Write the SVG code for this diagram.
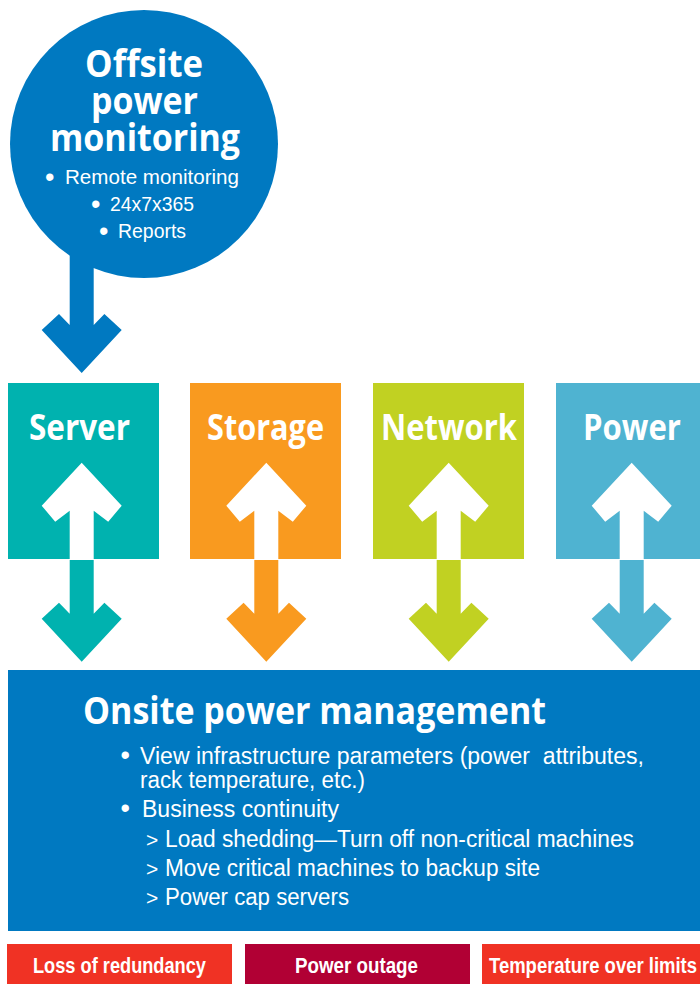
<svg xmlns="http://www.w3.org/2000/svg" width="700" height="984" viewBox="0 0 700 984">
<style>
.h{font-family:"Open Sans","Noto Sans",sans-serif;font-weight:700;fill:#fff}
.b{font-family:"Liberation Sans",Arial,sans-serif;fill:#fff;font-size:21px;white-space:pre}
.l{font-family:"Liberation Sans",Arial,sans-serif;fill:#fff;font-size:23px;white-space:pre}
.d{font-family:"Liberation Sans",Arial,sans-serif;fill:#fff;font-size:27px}
.r{font-family:"Liberation Sans",Arial,sans-serif;font-weight:700;fill:#fff;font-size:22px}
.blue{fill:#0079c1}.teal{fill:#00b2af}.orange{fill:#f99a1f}.green{fill:#c1d122}.sky{fill:#4fb3d1}.white{fill:#fff}
</style>
<defs>
<path id="up" d="M0 0L40 43L26.500 59L12 48V96.500H-12V48L-26.500 59L-40 43Z"/>
<path id="down" d="M-12 0H12V53.700L22.700 42.700L40 58.700L0 101.700L-40 58.700L-22.700 42.700L-12 53.700Z"/>
</defs>
<rect width="700" height="984" fill="#fff"/>
<g id="offsite">
<circle class="blue" cx="144" cy="144" r="134"/>
<text class="h" font-size="38" x="85" y="76.500" textLength="118" lengthAdjust="spacingAndGlyphs">Offsite</text>
<text class="h" font-size="38" x="91" y="113.500" textLength="107" lengthAdjust="spacingAndGlyphs">power</text>
<text class="h" font-size="38" x="50" y="150.500" textLength="190" lengthAdjust="spacingAndGlyphs">monitoring</text>
<text class="d" x="45" y="186">•</text>
<text class="b" x="65" y="184" textLength="174" lengthAdjust="spacingAndGlyphs">Remote monitoring</text>
<text class="d" x="91" y="213">•</text>
<text class="b" x="110" y="211" textLength="84" lengthAdjust="spacingAndGlyphs">24x7x365</text>
<text class="d" x="99" y="240">•</text>
<text class="b" x="118" y="238" textLength="68" lengthAdjust="spacingAndGlyphs">Reports</text>
</g>
<g id="server">
<rect class="teal" x="8" y="383" width="151" height="176"/>
<text class="h" font-size="36" x="29" y="439.500" textLength="101" lengthAdjust="spacingAndGlyphs">Server</text>
</g>
<g id="storage">
<rect class="orange" x="190" y="383" width="151" height="176"/>
<text class="h" font-size="36" x="207" y="439.500" textLength="117" lengthAdjust="spacingAndGlyphs">Storage</text>
</g>
<g id="network">
<rect class="green" x="373" y="383" width="151" height="176"/>
<text class="h" font-size="36" x="381" y="439.500" textLength="136" lengthAdjust="spacingAndGlyphs">Network</text>
</g>
<g id="power">
<rect class="sky" x="556" y="383" width="144" height="176"/>
<text class="h" font-size="36" x="583" y="439.500" textLength="98" lengthAdjust="spacingAndGlyphs">Power</text>
</g>
<g id="onsite">
<rect class="blue" x="8" y="670" width="692" height="261"/>
<text class="h" font-size="37" x="83" y="724" textLength="463" lengthAdjust="spacingAndGlyphs">Onsite power management</text>
<text class="d" x="120.500" y="764">•</text>
<text class="l" x="140" y="764" textLength="504" lengthAdjust="spacingAndGlyphs">View infrastructure parameters (power  attributes,</text>
<text class="l" x="140" y="788" textLength="225" lengthAdjust="spacingAndGlyphs">rack temperature, etc.)</text>
<text class="d" x="120.500" y="817">•</text>
<text class="l" x="142" y="817" textLength="197" lengthAdjust="spacingAndGlyphs">Business continuity</text>
<text class="b" x="146" y="847">&gt;</text>
<text class="l" x="165" y="847" textLength="469" lengthAdjust="spacingAndGlyphs">Load shedding—Turn off non-critical machines</text>
<text class="b" x="146" y="876">&gt;</text>
<text class="l" x="165" y="876" textLength="375" lengthAdjust="spacingAndGlyphs">Move critical machines to backup site</text>
<text class="b" x="146" y="905">&gt;</text>
<text class="l" x="165" y="905" textLength="184" lengthAdjust="spacingAndGlyphs">Power cap servers</text>
</g>
<g id="alert-redundancy">
<rect x="7" y="944" width="225" height="40" fill="#f03224"/>
<text class="r" x="33" y="973" textLength="173" lengthAdjust="spacingAndGlyphs">Loss of redundancy</text>
</g>
<g id="alert-outage">
<rect x="245" y="944" width="225" height="40" fill="#b10034"/>
<text class="r" x="295" y="973" textLength="123" lengthAdjust="spacingAndGlyphs">Power outage</text>
</g>
<g id="alert-temperature">
<rect x="482" y="944" width="218" height="40" fill="#f03224"/>
<text class="r" x="489" y="973" textLength="208" lengthAdjust="spacingAndGlyphs">Temperature over limits</text>
</g>
<g id="connectors">
<path class="blue" d="M69.700 250H93.700V325L104.400 314L121.700 330L81.700 373L41.700 330L59 314L69.700 325Z"/>
<use href="#up" class="white" x="81.700" y="462.700"/>
<use href="#up" class="white" x="266.300" y="462.700"/>
<use href="#up" class="white" x="448.700" y="462.700"/>
<use href="#up" class="white" x="631.700" y="462.700"/>
<use href="#down" class="teal" x="81.700" y="560"/>
<use href="#down" class="orange" x="266.300" y="560"/>
<use href="#down" class="green" x="448.700" y="560"/>
<use href="#down" class="sky" x="631.700" y="560"/>
</g>
</svg>
